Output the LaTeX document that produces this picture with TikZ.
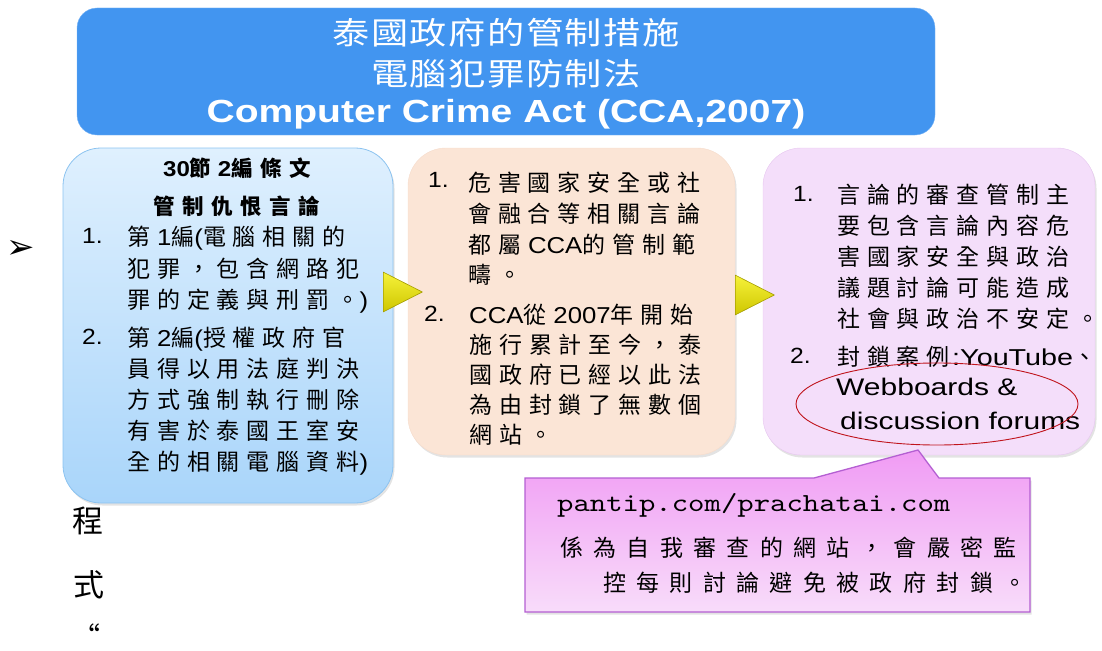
\documentclass[tikz,border=0pt]{standalone}
\usepackage{fontspec}
\setmainfont{Liberation Sans}
\usetikzlibrary{shapes.geometric,shapes.callouts,shadows}
\newfontfamily\cjk[LetterSpace=30]{Noto Sans CJK TC}
\newfontfamily\cjkwide[LetterSpace=45]{Noto Sans CJK TC}
\newfontfamily\cjkhead[LetterSpace=35]{Noto Sans CJK TC}
\newfontfamily\cjktitle[FakeStretch=1.2,LetterSpace=5]{Noto Sans CJK TC}
\newfontfamily\plaincjk{Noto Sans CJK TC}
\newfontfamily\lat[FakeStretch=1.12]{Liberation Sans}
\newfontfamily\latwide[FakeStretch=1.25]{Liberation Sans}
\newfontfamily\lattitle[FakeStretch=1.22]{Liberation Sans}
\newfontfamily\monofont[FakeStretch=1.2,Extension=.otf]{lmmono10-regular}
\newfontfamily\dejavu{DejaVu Sans}
% latin run following a CJK glyph: restore the tracking gap lost at the font change
\newcommand\latx[1]{{\hspace{0.3em}\lat #1}}
\newcommand\latz[1]{{\lat #1}}
\newcommand\latr[1]{{\hspace{0.1em}\latwide #1}}
\definecolor{titleblue}{HTML}{4295F0}
\definecolor{titleedge}{HTML}{7DB6F5}
\definecolor{lbtop}{HTML}{DFF0FE}
\definecolor{lbbot}{HTML}{A9D5FA}
\definecolor{lbedge}{HTML}{8CC3F0}
\definecolor{peach}{HTML}{FBE5D6}
\definecolor{peachedge}{HTML}{F6DCCB}
\definecolor{lilac}{HTML}{F4DEFA}
\definecolor{lilacedge}{HTML}{E6C6EF}
\definecolor{caltop}{HTML}{F09BF4}
\definecolor{calbot}{HTML}{F8DCFA}
\definecolor{caledge}{HTML}{B45FD2}
\definecolor{ytop}{HTML}{F6F23A}
\definecolor{ybot}{HTML}{CEC600}
\definecolor{yedge}{HTML}{A49C00}
\definecolor{ringred}{HTML}{C0141C}
\begin{document}
\begin{tikzpicture}[x=1pt,y=-1pt,
  shadowed/.style={drop shadow={opacity=0.22,shadow xshift=1.5pt,shadow yshift=-2.5pt}},
  bigbox/.style={rounded corners=38pt, inner sep=0pt, shadowed},
  body/.style={anchor=north west, align=left, inner sep=0pt, font=\cjk\fontsize{23}{#1}\selectfont},
  body/.default=31,
  num/.style={anchor=north west, inner sep=0pt, font=\lat\fontsize{22}{26}\selectfont},
  hd/.style={inner sep=0pt, font=\cjkhead\bfseries\fontsize{21.5}{26}\selectfont},
  engl/.style={anchor=north west, inner sep=0pt, font=\latwide\fontsize{24}{28}\selectfont},
  ttl/.style={inner sep=0pt, text=white},
  arrowtri/.style={isosceles triangle, isosceles triangle apex angle=54, minimum height=39pt, inner sep=0pt, anchor=west, top color=ytop, bottom color=ybot, draw=yedge, line width=0.6pt},
  cw/.style={anchor=north west, inner sep=0pt, font=\cjkwide\fontsize{23}{28}\selectfont},
  side/.style={inner sep=0pt, font=\plaincjk\fontsize{31}{36}\selectfont}]
\useasboundingbox (0,0) rectangle (1102,650);

% title
\node[draw=titleedge, fill=titleblue, rounded corners=20pt, minimum width=858pt, minimum height=127pt, inner sep=0pt] (title) at (506,71.5) {};
\node[ttl, font=\cjktitle\fontsize{31}{34}\selectfont] (t1) at (506,33) {泰國政府的管制措施};
\node[ttl, font=\cjktitle\fontsize{31}{34}\selectfont] (t2) at (506,74) {電腦犯罪防制法};
\node[ttl, font=\lattitle\bfseries\fontsize{32}{36}\selectfont] (t3) at (506,114) {Computer Crime Act (CCA,2007)};

% left box
\node[bigbox, draw=lbedge, line width=0.8pt, top color=lbtop, bottom color=lbbot, minimum width=330pt, minimum height=355pt] (boxA) at (228,325.5) {};
\node[hd] (ahd1) at (237,168) {\latz{30}節\latx{2}編條文};
\node[hd] (ahd2) at (237,206) {管制仇恨言論};
\node[num] (an1) at (82,228) {1.};
\node[body=31.5] (at1) at (127,226) {第\latx{1}編\latz{(}電腦相關的\\犯罪，包含網路犯\\罪的定義與刑罰。\latz{)}};
\node[num] (an2) at (82,329) {2.};
\node[body=31] (at2) at (127,327) {第\latx{2}編\latz{(}授權政府官\\員得以用法庭判決\\方式強制執行刪除\\有害於泰國王室安\\全的相關電腦資料\latz{)}};

% middle box
\node[bigbox, draw=peachedge, fill=peach, minimum width=327pt, minimum height=307pt] (boxB) at (571.5,301.5) {};
\node[num] (bn1) at (428,172) {1.};
\node[body=30.7] (bt1) at (468,172) {危害國家安全或社\\會融合等相關言論\\都屬\latx{CCA}的管制範\\疇。};
\node[num] (bn2) at (424,306) {2.};
\node[body=30] (bt2) at (469,304) {\latz{CCA}從\latx{2007}年開始\\施行累計至今，泰\\國政府已經以此法\\為由封鎖了無數個\\網站。};

% right box
\node[bigbox, draw=lilacedge, fill=lilac, minimum width=332pt, minimum height=307pt] (boxC) at (929,301.5) {};
\node[num] (cn1) at (793,186) {1.};
\node[body=31] (ct1) at (837,184) {言論的審查管制主\\要包含言論內容危\\害國家安全與政治\\議題討論可能造成\\社會與政治不安定。};
\node[num] (cn2) at (790,348) {2.};
\node[body] (ct2) at (837,346) {封鎖案例\latr{:YouTube}、};
\node[engl] (ct3) at (836,378) {Webboards \&};
\node[engl] (ct4) at (840,412) {discussion forums};
\node[draw=ringred, line width=0.9pt, ellipse, minimum width=282pt, minimum height=82pt, inner sep=0pt] (ring) at (937,404) {};

% arrows between boxes
\node[arrowtri] (tri1) at (383,292) {};
\node[arrowtri] (tri2) at (735,295) {};

% callout
\node[rectangle callout, callout absolute pointer={(918,450)}, callout pointer width=125pt, draw=caledge, line width=1.3pt, top color=caltop, bottom color=calbot, minimum width=505pt, minimum height=134pt, inner sep=0pt, shadowed] (call) at (777.5,545) {};
\node[anchor=north west, inner sep=0pt, font=\monofont\fontsize{26}{30}\selectfont] (c1) at (557,493) {pantip.com/prachatai.com};
\node[cw] (c2) at (560,537) {係為自我審查的網站，會嚴密監};
\node[cw] (c3) at (603,572) {控每則討論避免被政府封鎖。};

% left margin fragments
\node[inner sep=0pt, font=\dejavu\fontsize{34}{38}\selectfont] (bul) at (21,249) {➢};
\node[side] (s1) at (88,521) {程};
\node[side] (s2) at (89,585) {式};
\node[side, anchor=north, font=\plaincjk\fontsize{28}{30}\selectfont] (s3) at (86,624) {“};
\end{tikzpicture}
\end{document}
